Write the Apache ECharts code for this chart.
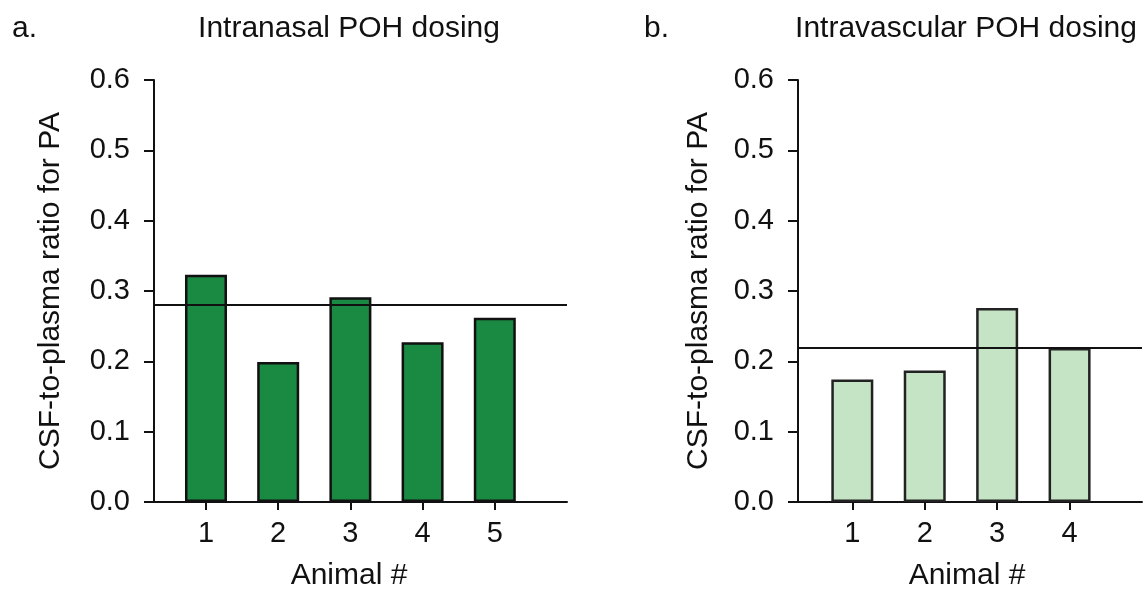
<!DOCTYPE html>
<html>
<head>
<meta charset="utf-8">
<script src="https://cdn.jsdelivr.net/npm/echarts@6/dist/echarts.min.js"></script>
<style>
  html, body { margin: 0; padding: 0; background: #fff; }
  #main { width: 1144px; height: 591px; }
</style>
</head>
<body>
<div id="main"></div>
<script>
// 数据
var animalsA = [1, 2, 3, 4, 5];
var ratioA = [0.323, 0.199, 0.291, 0.227, 0.262];
var meanA = 0.275;

var animalsB = [1, 2, 3, 4];
var ratioB = [0.174, 0.187, 0.276, 0.219];
var meanB = 0.216;

var yTicks = [0, 0.1, 0.2, 0.3, 0.4, 0.5, 0.6];

var FONT = "'Liberation Sans', Arial, sans-serif";
var INK = '#111';

function pairs(xs, ys) {
    return xs.map(function (x, i) { return [x, ys[i]]; });
}

function xAxisOf(gridIndex, ticks, min, max) {
    return {
        type: 'value', gridIndex: gridIndex, min: min, max: max,
        splitLine: { show: false },
        axisLine: { lineStyle: { color: INK, width: 2 } },
        axisTick: { customValues: ticks, length: 8, lineStyle: { color: INK, width: 2 } },
        axisLabel: { customValues: ticks, color: INK, fontSize: 29, fontFamily: FONT, margin: 17 }
    };
}

function yAxisOf(gridIndex, gap) {
    return {
        type: 'value', gridIndex: gridIndex, min: 0, max: 0.6, interval: 0.1,
        name: 'CSF-to-plasma ratio for PA', nameLocation: 'middle', nameGap: gap,
        nameTextStyle: { color: INK, fontSize: 30, fontFamily: FONT },
        splitLine: { show: false },
        axisLine: { show: true, lineStyle: { color: INK, width: 2 } },
        axisTick: { show: true, length: 10, lineStyle: { color: INK, width: 2 } },
        axisLabel: {
            color: INK, fontSize: 29, fontFamily: FONT, margin: 24,
            customValues: yTicks,
            formatter: function (v) { return v.toFixed(1); }
        }
    };
}

function barSeries(idx, xs, ys, fill, border, mean) {
    return {
        type: 'bar', xAxisIndex: idx, yAxisIndex: idx,
        data: pairs(xs, ys),
        barWidth: 42,
        itemStyle: { color: fill, borderColor: border, borderWidth: 2.5 },
        silent: true,
        markLine: {
            silent: true, symbol: 'none',
            label: { show: false },
            lineStyle: { color: INK, width: 2, type: 'solid' },
            data: [{ yAxis: mean }]
        }
    };
}

function text(x, y, str, align) {
    return {
        type: 'text', x: x, y: y,
        style: { text: str, fill: INK, font: '30px ' + FONT, textAlign: align || 'center', textVerticalAlign: 'top' }
    };
}

var myChart = echarts.init(document.getElementById('main'));

var option = {
    animation: false,
    backgroundColor: '#fff',
    grid: [
        { left: 154, right: 577, top: 80, bottom: 89 },
        { left: 798, right: 2, top: 80, bottom: 89 }
    ],
    xAxis: [
        xAxisOf(0, animalsA, 0.28, 6),
        xAxisOf(1, animalsB, 0.25, 5)
    ],
    yAxis: [
        yAxisOf(0, 88),
        yAxisOf(1, 84)
    ],
    series: [
        barSeries(0, animalsA, ratioA, '#1a8942', '#111', meanA),
        barSeries(1, animalsB, ratioB, '#c5e4c5', '#222', meanB)
    ],
    graphic: [
        text(12, 14, 'a.', 'left'),
        text(349, 14, 'Intranasal POH dosing'),
        text(644, 14, 'b.', 'left'),
        text(966, 14, 'Intravascular POH dosing'),
        text(349, 561, 'Animal #'),
        text(967, 561, 'Animal #')
    ]
};

myChart.setOption(option);
</script>
</body>
</html>
